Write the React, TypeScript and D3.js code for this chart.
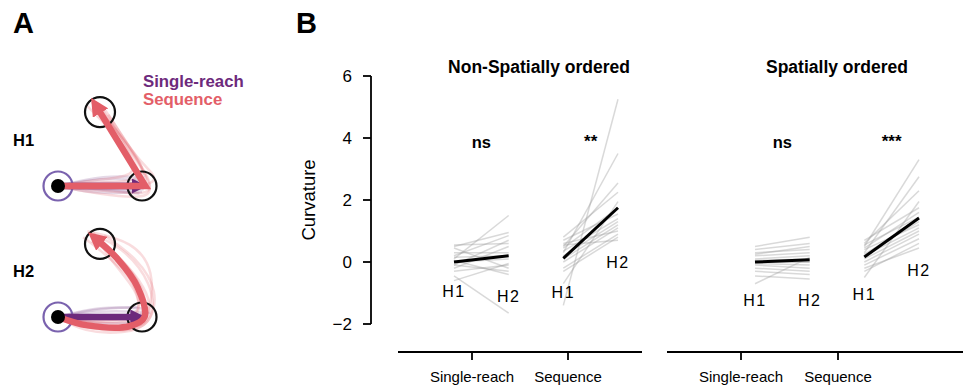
import React from 'react';
import * as d3 from 'd3';

// ---- data: panel B ----
const groups = ['Single-reach', 'Sequence'];
const panelTitles = ['Non-Spatially ordered', 'Spatially ordered'];
const yTicks = [-2, 0, 2, 4, 6];
const sigLabels = [['ns', '**'], ['ns', '***']];

const nonSpatialSingleH1 = [0.1, 0.55, 0.5, 0.3, 0.2, -0.1, 0.0, 0.45, -0.2, -0.1, -0.3, 0.05, -0.45, -0.6, 0.15];
const nonSpatialSingleH2 = [1.5, 0.6, 0.95, 0.3, 0.85, 0.7, 0.1, -0.2, 0.5, -0.3, -0.1, -0.4, -1.65, -0.05, 0.2];
const nonSpatialSeqH1 = [0.3, 0.5, -1.4, -0.7, 0.8, 0.7, 0.6, 0.45, 0.35, 0.2, 0.1, 0.0, -0.2, -0.3, 0.55];
const nonSpatialSeqH2 = [3.5, 2.55, 5.25, 1.95, 2.25, 1.55, 1.0, 1.75, 1.4, 1.3, 1.2, 1.1, 0.9, 0.8, 0.7];

const spatialSingleH1 = [0.5, 0.4, 0.3, 0.2, 0.1, 0.05, 0.0, -0.05, -0.1, -0.2, -0.3, -0.45, -0.7, 0.25, 0.0];
const spatialSingleH2 = [0.8, 0.6, 0.4, 0.3, 0.2, 0.1, 0.0, -0.1, -0.2, -0.3, -0.4, -0.55, 0.15, 0.5, 0.0];
const spatialSeqH1 = [0.5, 0.3, 0.6, -0.5, 0.7, 0.45, 0.55, 0.25, 0.4, 0.2, 0.1, 0.0, -0.1, -0.3, -0.2];
const spatialSeqH2 = [3.3, 2.75, 2.3, 1.95, 1.75, 1.6, 1.45, 1.3, 1.2, 1.1, 1.0, 0.9, 0.75, 0.6, 0.45];

const nonSpatialMean = [[0.0, 0.2], [0.12, 1.75]];
const spatialMean = [[0.0, 0.07], [0.16, 1.42]];

// ---- data: panel A (workspace units, start = origin, first target = (1, 0)) ----
type Pt = [number, number];
const targetsH1: Pt[] = [[0, 0], [1, 0], [0.5, 0.88]];
const targetsH2: Pt[] = [[0, 0], [1, 0], [0.5, 0.87]];

const meanSingleH1: Pt[] = [[0, 0], [0.97, 0]];
const meanSeqH1: Pt[] = [[0, 0], [1.04, 0], [0.45, 0.96]];
const meanSingleH2: Pt[] = [[0, 0], [0.95, 0]];
const meanSeqH2: Pt[] = [[0, 0], [0.35, -0.1], [0.85, -0.11], [1.03, 0.0], [0.95, 0.35], [0.7, 0.7], [0.44, 0.94]];

const trialsSingleH1: Pt[][] = [
  [[0, 0], [0.5, 0.05], [1.0, 0.03]],
  [[0, 0], [0.5, -0.06], [1.02, -0.04]],
  [[0, 0], [0.5, 0.1], [0.98, 0.07]],
  [[0, 0], [0.5, -0.1], [1.0, -0.07]],
  [[0, 0], [0.6, 0.02], [1.06, 0.0]],
  [[0, 0], [0.45, -0.03], [0.97, -0.09]],
  [[0, 0], [0.55, 0.13], [1.03, 0.1]],
];
const trialsSeqH1: Pt[][] = [
  [[0, 0], [0.5, 0.02], [1.04, -0.04], [1.08, 0.1], [0.8, 0.5], [0.5, 0.95]],
  [[0, 0], [0.5, -0.05], [1.1, -0.12], [1.12, 0.05], [0.85, 0.45], [0.52, 0.9]],
  [[0, 0], [0.5, 0.05], [0.98, 0.05], [0.95, 0.2], [0.7, 0.6], [0.42, 0.98]],
  [[0, 0], [0.55, 0.0], [1.05, 0.02], [1.0, 0.3], [0.62, 0.75], [0.4, 1.0]],
  [[0, 0], [0.5, -0.1], [1.02, -0.15], [1.15, -0.05], [0.9, 0.4], [0.55, 0.92]],
  [[0, 0], [0.5, 0.08], [0.96, 0.12], [0.85, 0.4], [0.6, 0.8], [0.47, 0.9]],
  [[0, 0], [0.6, -0.02], [1.08, 0.0], [1.2, 0.1], [0.95, 0.3], [0.6, 0.85]],
  [[0, 0], [0.5, 0.04], [1.0, -0.08], [1.0, 0.15], [0.75, 0.55], [0.35, 0.95]],
];
const trialsSingleH2: Pt[][] = [
  [[0, 0], [0.5, 0.08], [1.0, 0.06]],
  [[0, 0], [0.5, 0.13], [1.05, 0.1]],
  [[0, 0], [0.5, -0.04], [0.98, -0.03]],
  [[0, 0], [0.55, 0.03], [1.07, 0.02]],
  [[0, 0], [0.5, -0.09], [1.0, -0.06]],
  [[0, 0], [0.45, 0.1], [0.95, 0.12]],
  [[0, 0], [0.6, -0.02], [1.1, 0.05]],
];
const trialsSeqH2: Pt[][] = [
  [[0, 0], [0.4, -0.12], [0.9, -0.12], [1.08, 0.05], [1.0, 0.4], [0.7, 0.75], [0.45, 0.92]],
  [[0, 0], [0.35, -0.15], [0.95, -0.18], [1.15, 0.0], [1.12, 0.4], [0.8, 0.8], [0.5, 0.95]],
  [[0, 0], [0.45, -0.05], [0.9, -0.02], [1.0, 0.15], [0.85, 0.5], [0.6, 0.8], [0.4, 0.9]],
  [[0, 0], [0.3, -0.18], [0.8, -0.2], [1.1, -0.1], [1.2, 0.3], [0.95, 0.7], [0.55, 0.97]],
  [[0, 0], [0.4, -0.08], [0.95, -0.08], [1.05, 0.1], [0.9, 0.45], [0.5, 0.8], [0.3, 0.95]],
  [[0, 0], [0.5, -0.1], [1.0, -0.15], [1.12, 0.05], [1.05, 0.35], [0.75, 0.7], [0.42, 1.0]],
  [[0, 0], [0.35, -0.06], [0.88, -0.06], [0.98, 0.08], [0.95, 0.3], [0.65, 0.65], [0.5, 0.88]],
  [[0, 0], [0.45, -0.14], [0.92, -0.14], [1.1, 0.02], [1.15, 0.55], [0.9, 0.9], [0.35, 1.02]],
];

const PURPLE = '#6d2a7c';
const PINK = '#e35e68';
const START = '#7a62ae';
const FONT = '"Liberation Sans", Arial, Helvetica, sans-serif';

const W = 963;
const H = 385;

const y = d3.scaleLinear().domain([-2, 6]).range([324, 76]);

const panelLayout = [
  { axis: [398, 642], ticks: [472, 568], data: [454, 618] },
  { axis: [667, 963], ticks: [741, 838], data: [755, 919] },
];

const pairLabelOffsets = [
  [[297, 302], [298, 268]],
  [[306, 306], [300, 276]],
];

const Panel: React.FC<{ idx: number }> = ({ idx }) => {
  const lay = panelLayout[idx];
  const x = d3.scaleLinear().domain([0, 3]).range(lay.data);
  const tickX = d3.scaleLinear().domain([0, 1]).range(lay.ticks);
  const sets = idx === 0
    ? [[nonSpatialSingleH1, nonSpatialSingleH2], [nonSpatialSeqH1, nonSpatialSeqH2]]
    : [[spatialSingleH1, spatialSingleH2], [spatialSeqH1, spatialSeqH2]];
  const means = idx === 0 ? nonSpatialMean : spatialMean;
  const center = (d3.sum(lay.data) / 2) + (idx === 0 ? 3 : 0);
  return (
    <g>
      <text x={center} y={73} textAnchor="middle" fontWeight="bold" fontSize={17.5}>{panelTitles[idx]}</text>
      {sets.map((s, g) => (
        <g key={g}>
          {s[0].map((v, i) => (
            <line key={i} x1={x(g * 2)} x2={x(g * 2 + 1)} y1={y(v)} y2={y(s[1][i])}
              stroke="#9a9a9a" strokeOpacity={0.38} strokeWidth={1.5} />
          ))}
          <line x1={x(g * 2)} x2={x(g * 2 + 1)} y1={y(means[g][0])} y2={y(means[g][1])}
            stroke="#000" strokeWidth={3} />
          <text x={(x(g * 2) + x(g * 2 + 1)) / 2} y={g === 0 ? 148 : 147} textAnchor="middle"
            fontWeight="bold" fontSize={g === 0 ? 16.5 : 17}>{sigLabels[idx][g]}</text>
          <text x={x(g * 2)} y={pairLabelOffsets[idx][g][0]} textAnchor="middle" fontSize={16} letterSpacing={1.5}>H1</text>
          <text x={x(g * 2 + 1)} y={pairLabelOffsets[idx][g][1]} textAnchor="middle" fontSize={16} letterSpacing={1.5}>H2</text>
        </g>
      ))}
      <line x1={lay.axis[0]} x2={lay.axis[1]} y1={352} y2={352} stroke="#000" strokeWidth={1.8} />
      {groups.map((gname, g) => (
        <g key={gname}>
          <line x1={tickX(g)} x2={tickX(g)} y1={352} y2={360} stroke="#000" strokeWidth={1.8} />
          <text x={tickX(g)} y={382} textAnchor="middle" fontSize={15}>{gname}</text>
        </g>
      ))}
    </g>
  );
};

const Reach: React.FC<{
  oy: number; label: string; targets: Pt[];
  trialsSingle: Pt[][]; trialsSeq: Pt[][];
  meanSingle: Pt[]; meanSeq: Pt[]; seqCurve: d3.CurveFactory;
}> = ({ oy, label, targets, trialsSingle, trialsSeq, meanSingle, meanSeq, seqCurve }) => {
  const sx = d3.scaleLinear().domain([0, 1]).range([58, 142]);
  const sy = d3.scaleLinear().domain([0, 1]).range([oy, oy - 84]);
  const trial = d3.line<Pt>().x((d) => sx(d[0])).y((d) => sy(d[1])).curve(d3.curveBasis);
  const straight = d3.line<Pt>().x((d) => sx(d[0])).y((d) => sy(d[1]));
  const seqLine = d3.line<Pt>().x((d) => sx(d[0])).y((d) => sy(d[1])).curve(seqCurve);
  return (
    <g>
      <text x={13} y={oy - 40} fontWeight="bold" fontSize={16.5}>{label}</text>
      {trialsSingle.map((t, i) => (
        <path key={'s' + i} d={trial(t) || ''} fill="none" stroke={PURPLE} strokeOpacity={0.18} strokeWidth={2.5} />
      ))}
      {trialsSeq.map((t, i) => (
        <path key={'q' + i} d={trial(t) || ''} fill="none" stroke={PINK} strokeOpacity={0.22} strokeWidth={2.5} />
      ))}
      <circle cx={sx(targets[0][0])} cy={sy(targets[0][1])} r={14.5} fill="none" stroke={START} strokeWidth={2.2} />
      <circle cx={sx(targets[1][0])} cy={sy(targets[1][1])} r={14.5} fill="none" stroke="#111" strokeWidth={2.2} />
      <circle cx={sx(targets[2][0])} cy={sy(targets[2][1])} r={15} fill="none" stroke="#111" strokeWidth={2.2} />
      <path d={straight(meanSingle) || ''} fill="none" stroke={PURPLE} strokeWidth={6.5} markerEnd="url(#headPurple)" />
      <path d={seqLine(meanSeq) || ''} fill="none" stroke={PINK} strokeWidth={6.5} strokeLinejoin="miter" markerEnd="url(#headPink)" />
      <circle cx={sx(targets[0][0])} cy={sy(targets[0][1])} r={7} fill="#000" />
    </g>
  );
};

export default function App() {
  return (
    <svg width={W} height={H} style={{ position: 'absolute', left: 0, top: 0, background: '#fff' }}
      fontFamily={FONT}>
      <defs>
        <marker id="headPurple" viewBox="0 0 10 10" refX="5" refY="5" markerUnits="userSpaceOnUse"
          markerWidth={15} markerHeight={15} orient="auto">
          <path d="M0,0 L10,5 L0,10 z" fill={PURPLE} />
        </marker>
        <marker id="headPink" viewBox="0 0 10 10" refX="5" refY="5" markerUnits="userSpaceOnUse"
          markerWidth={18} markerHeight={18} orient="auto">
          <path d="M0,0 L10,5 L0,10 z" fill={PINK} />
        </marker>
      </defs>
      <rect width={W} height={H} fill="#fff" />
      <text x={13} y={33} fontWeight="bold" fontSize={29}>A</text>
      <text x={296} y={33} fontWeight="bold" fontSize={29}>B</text>

      <text x={143} y={87} fontWeight="bold" fontSize={16.8} fill={PURPLE}>Single-reach</text>
      <text x={143} y={105} fontWeight="bold" fontSize={16.8} fill={PINK}>Sequence</text>

      <Reach oy={186} label="H1" targets={targetsH1} trialsSingle={trialsSingleH1} trialsSeq={trialsSeqH1}
        meanSingle={meanSingleH1} meanSeq={meanSeqH1} seqCurve={d3.curveLinear} />
      <Reach oy={317} label="H2" targets={targetsH2} trialsSingle={trialsSingleH2} trialsSeq={trialsSeqH2}
        meanSingle={meanSingleH2} meanSeq={meanSeqH2} seqCurve={d3.curveCatmullRom} />

      {/* y axis */}
      <line x1={371} x2={371} y1={y(6)} y2={y(-2)} stroke="#000" strokeWidth={1.8} />
      {yTicks.map((t) => (
        <g key={t}>
          <line x1={363} x2={371} y1={y(t)} y2={y(t)} stroke="#000" strokeWidth={1.8} />
          <text x={352} y={y(t) + 6} textAnchor="end" fontSize={17}>{t < 0 ? '\u2212' + Math.abs(t) : t}</text>
        </g>
      ))}
      <text transform={`translate(315,${y(2)}) rotate(-90)`} textAnchor="middle" fontSize={18.5}>Curvature</text>

      <Panel idx={0} />
      <Panel idx={1} />
    </svg>
  );
}
